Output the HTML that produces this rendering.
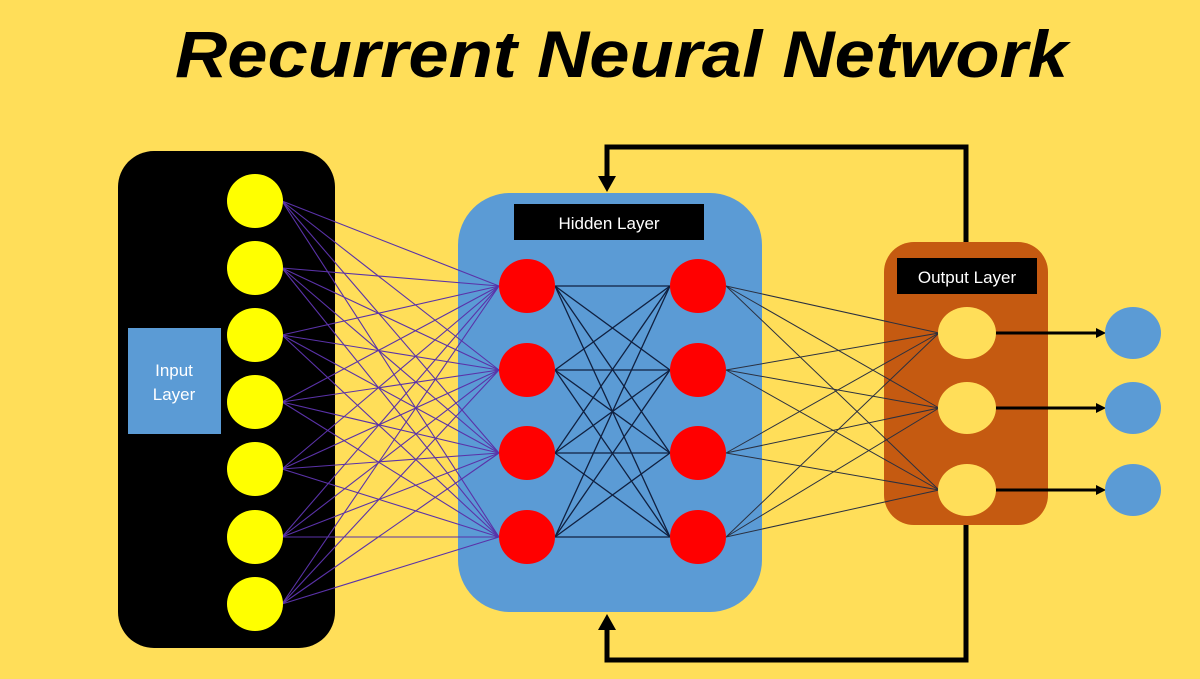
<!DOCTYPE html>
<html><head><meta charset="utf-8"><style>
body{margin:0;width:1200px;height:674px;overflow:hidden;background:#ffde59}
</style></head><body>
<svg width="1200" height="674" xmlns="http://www.w3.org/2000/svg" font-family="Liberation Sans, sans-serif">
<rect width="1200" height="674" fill="#ffde59"/>
<text x="175" y="77" textLength="893" lengthAdjust="spacingAndGlyphs" font-size="66" font-weight="bold" font-style="italic" fill="#000">Recurrent Neural Network</text>
<polyline points="966,242 966,147 607,147 607,178" fill="none" stroke="#000" stroke-width="5"/>
<polygon points="598,176 616,176 607,192" fill="#000"/>
<polyline points="966,525 966,660 607,660 607,626" fill="none" stroke="#000" stroke-width="5"/>
<polygon points="598,630 616,630 607,614" fill="#000"/>
<rect x="118" y="151" width="217" height="497" rx="36" fill="#000"/>
<rect x="128" y="328" width="93" height="106" fill="#5b9bd5"/>
<text x="174" y="376" text-anchor="middle" font-size="17" fill="#fff">Input</text>
<text x="174" y="400" text-anchor="middle" font-size="17" fill="#fff">Layer</text>
<rect x="458" y="193" width="304" height="419" rx="52" fill="#5b9bd5"/>
<rect x="514" y="204" width="190" height="36" fill="#000"/>
<text x="609" y="229" text-anchor="middle" font-size="17" fill="#fff">Hidden Layer</text>
<rect x="884" y="242" width="164" height="283" rx="30" fill="#c55a11"/>
<rect x="897" y="258" width="140" height="36" fill="#000"/>
<text x="967" y="283" text-anchor="middle" font-size="17" fill="#fff">Output Layer</text>
<g id="lines" stroke-width="1"></g>
<g id="nodes"></g>
</svg>
<script>
const ns="http://www.w3.org/2000/svg";
const L=document.getElementById('lines'),N=document.getElementById('nodes');
function ln(x1,y1,x2,y2,c,w){const e=document.createElementNS(ns,'line');e.setAttribute('x1',x1);e.setAttribute('y1',y1);e.setAttribute('x2',x2);e.setAttribute('y2',y2);e.setAttribute('stroke',c);e.setAttribute('stroke-width',w);L.appendChild(e);}
function el(cx,cy,rx,ry,f){const e=document.createElementNS(ns,'ellipse');e.setAttribute('cx',cx);e.setAttribute('cy',cy);e.setAttribute('rx',rx);e.setAttribute('ry',ry);e.setAttribute('fill',f);N.appendChild(e);}
const Y=[201,268,335,402,469,537,604],H=[286,370,453,537],O=[333,408,490];
Y.forEach(a=>H.forEach(b=>ln(282,a,499,b,'#5a32a8',1.1)));
H.forEach(a=>H.forEach(b=>ln(555,a,670,b,'#102040',1.3)));
H.forEach(a=>O.forEach(b=>ln(726,a,939,b,'#2a3040',1)));
O.forEach(b=>{ln(995,b,1098,b,'#000',3);const p=document.createElementNS(ns,'polygon');p.setAttribute('points',`1096,${b-5} 1106,${b} 1096,${b+5}`);L.appendChild(p);el(1133,b,28,26,'#5b9bd5');});
Y.forEach(a=>el(255,a,28,27,'#ffff00'));
H.forEach(a=>{el(527,a,28,27,'#ff0000');el(698,a,28,27,'#ff0000');});
O.forEach(a=>el(967,a,29,26,'#ffde59'));
</script>
</body></html>
